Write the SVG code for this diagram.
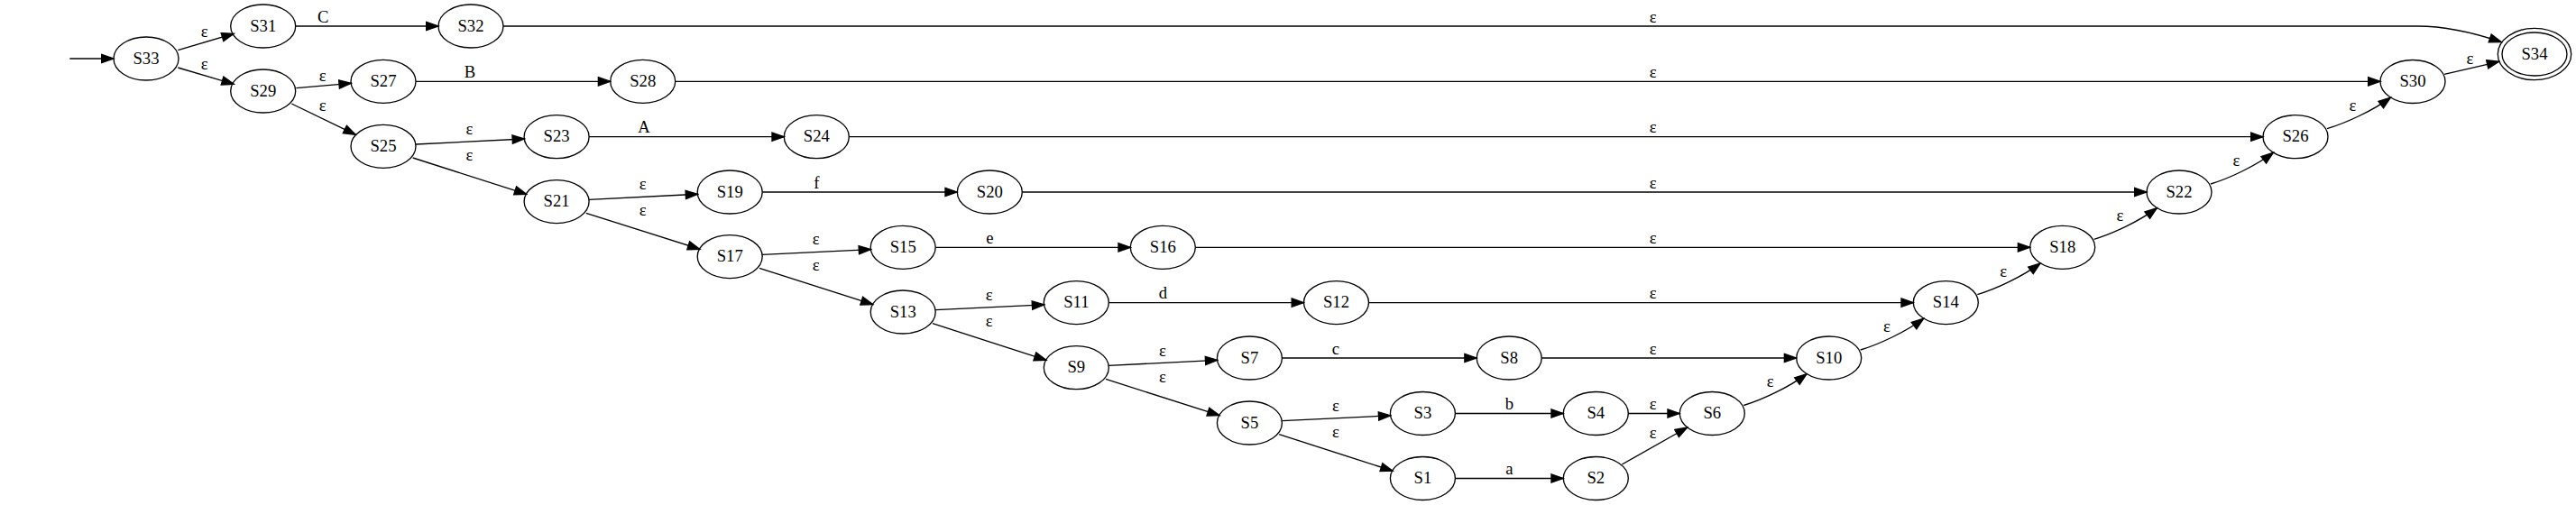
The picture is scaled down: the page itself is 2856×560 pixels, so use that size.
<svg xmlns="http://www.w3.org/2000/svg" width="2856" height="560" viewBox="0 0 2856 560">
<style>
.n ellipse{fill:none;stroke:#000;stroke-width:1.33}
text{font-family:"Liberation Serif","Times New Roman",serif;font-size:18.67px;text-anchor:middle;fill:#000}
.e path{fill:none;stroke:#000;stroke-width:1.33;marker-end:url(#ah)}
</style>
<defs>
<marker id="ah" markerUnits="userSpaceOnUse" viewBox="0 0 16 12" markerWidth="16" markerHeight="12" refX="14.33" refY="6" orient="auto">
<path d="M1,1.33 L14.33,6 L1,10.67 Z" fill="#000" stroke="#000" stroke-width="1.33"/>
</marker>
</defs>
<rect width="2856" height="560" fill="#fff"/>
<g id="edges" class="e">
<path d="M77.3,65 L126,65"/>
<path d="M197.3,55.7 L259.3,37.3"/>
<path d="M197.3,75 L259.3,93.3"/>
<path d="M328.3,97.7 L389.3,92.3"/>
<path d="M323.3,115 L394.3,149.3"/>
<path d="M461,160 L581.5,154"/>
<path d="M457.7,175 L583.8,215.3"/>
<path d="M653.1,221.3 L773.6,215.3"/>
<path d="M649.8,236.3 L775.9,276.3"/>
<path d="M845.2,282.3 L965.6,276.6"/>
<path d="M841.9,297.3 L967.9,337.7"/>
<path d="M1037.2,343.7 L1157.7,337.9"/>
<path d="M1033.9,358.7 L1160,399.4"/>
<path d="M1229.3,405.4 L1349.8,399.3"/>
<path d="M1226,420.4 L1352.1,460.7"/>
<path d="M1421.4,466.7 L1541.8,460.8"/>
<path d="M1418.1,481.7 L1544.1,522.2"/>
<path d="M327.7,29 L486,29"/>
<path d="M461,90.3 L676.7,90.3"/>
<path d="M653.1,151.7 L869.3,151.7"/>
<path d="M845.2,213 L1061.3,213"/>
<path d="M1037.2,274.3 L1253.3,274.3"/>
<path d="M1229.3,335.6 L1445.5,335.6"/>
<path d="M1421.4,397 L1637.2,397"/>
<path d="M1613.4,458.5 L1733.3,458.5"/>
<path d="M1613.4,530.5 L1733.3,530.5"/>
<path d="M558,29 L2680,29 C2715,29 2745,37 2773.3,46.7"/>
<path d="M748.7,90.3 L2639,90.3"/>
<path d="M941.3,151.7 L2509,151.7"/>
<path d="M1133.3,213 L2380,213"/>
<path d="M1325.3,274.3 L2250.7,274.3"/>
<path d="M1517.5,335.6 L2121.3,335.6"/>
<path d="M1709.2,397 L1991.7,397"/>
<path d="M1805.3,458.5 L1862.3,458.5"/>
<path d="M1798.3,515 L1870.7,474"/>
<path d="M1933.3,449.5 C1953.3,443.5 1983.1,429.6 2003.1,414.6"/>
<path d="M2062.7,388 C2082.7,382 2112.7,368.2 2132.7,353.2"/>
<path d="M2192.3,326.6 C2212.3,320.6 2242.1,306.9 2262.1,291.9"/>
<path d="M2321.7,265.3 C2341.7,259.3 2371.4,245.6 2391.4,230.6"/>
<path d="M2451,204 C2471,198 2500.4,184.3 2520.4,169.3"/>
<path d="M2580,142.7 C2600,136.7 2630.4,123.1 2650.4,108.1"/>
<path d="M2710,82.3 L2770.7,68.3"/>
</g>
<g id="edge-labels">
<text x="226.7" y="41">ε</text>
<text x="226.7" y="77">ε</text>
<text x="357.7" y="90.3">ε</text>
<text x="357.7" y="122.6">ε</text>
<text x="520.5" y="149.1">ε</text>
<text x="520.5" y="178.1">ε</text>
<text x="712.6" y="210.4">ε</text>
<text x="712.6" y="239.4">ε</text>
<text x="904.7" y="271.4">ε</text>
<text x="904.7" y="300.4">ε</text>
<text x="1096.7" y="332.8">ε</text>
<text x="1096.7" y="361.8">ε</text>
<text x="1288.8" y="394.5">ε</text>
<text x="1288.8" y="423.5">ε</text>
<text x="1480.9" y="455.8">ε</text>
<text x="1480.9" y="484.8">ε</text>
<text x="358.3" y="24.6">C</text>
<text x="521" y="85.9">B</text>
<text x="714" y="147.3">A</text>
<text x="905.3" y="208.6">f</text>
<text x="1097.3" y="269.9">e</text>
<text x="1289.3" y="331.2">d</text>
<text x="1481" y="392.6">c</text>
<text x="1673.3" y="454.1">b</text>
<text x="1673.3" y="526.1">a</text>
<text x="1832.7" y="24.6">ε</text>
<text x="1832.7" y="85.9">ε</text>
<text x="1832.7" y="147.3">ε</text>
<text x="1832.7" y="208.6">ε</text>
<text x="1832.7" y="269.9">ε</text>
<text x="1832.7" y="331.2">ε</text>
<text x="1832.7" y="392.6">ε</text>
<text x="1832.7" y="454.1">ε</text>
<text x="1832.7" y="486">ε</text>
<text x="1962.7" y="429.3">ε</text>
<text x="2091.9" y="368">ε</text>
<text x="2221.1" y="306.7">ε</text>
<text x="2350.3" y="245.4">ε</text>
<text x="2479.5" y="184.1">ε</text>
<text x="2608.5" y="122.8">ε</text>
<text x="2738.3" y="71">ε</text>
</g>
<g id="S33" class="n"><ellipse cx="162" cy="65" rx="36" ry="24"/><text x="162" y="70.5">S33</text></g>
<g id="S31" class="n"><ellipse cx="291.7" cy="29" rx="36" ry="24"/><text x="291.7" y="34.5">S31</text></g>
<g id="S32" class="n"><ellipse cx="522" cy="29" rx="36" ry="24"/><text x="522" y="34.5">S32</text></g>
<g id="S29" class="n"><ellipse cx="291.7" cy="101" rx="36" ry="24"/><text x="291.7" y="106.5">S29</text></g>
<g id="S27" class="n"><ellipse cx="425" cy="90.3" rx="36" ry="24"/><text x="425" y="95.8">S27</text></g>
<g id="S28" class="n"><ellipse cx="712.7" cy="90.3" rx="36" ry="24"/><text x="712.7" y="95.8">S28</text></g>
<g id="S25" class="n"><ellipse cx="425" cy="162.3" rx="36" ry="24"/><text x="425" y="167.8">S25</text></g>
<g id="S23" class="n"><ellipse cx="617.1" cy="151.7" rx="36" ry="24"/><text x="617.1" y="157.2">S23</text></g>
<g id="S24" class="n"><ellipse cx="905.3" cy="151.7" rx="36" ry="24"/><text x="905.3" y="157.2">S24</text></g>
<g id="S21" class="n"><ellipse cx="617.1" cy="223.6" rx="36" ry="24"/><text x="617.1" y="229.1">S21</text></g>
<g id="S19" class="n"><ellipse cx="809.2" cy="213" rx="36" ry="24"/><text x="809.2" y="218.5">S19</text></g>
<g id="S20" class="n"><ellipse cx="1097.3" cy="213" rx="36" ry="24"/><text x="1097.3" y="218.5">S20</text></g>
<g id="S17" class="n"><ellipse cx="809.2" cy="284.6" rx="36" ry="24"/><text x="809.2" y="290.1">S17</text></g>
<g id="S15" class="n"><ellipse cx="1001.2" cy="274.3" rx="36" ry="24"/><text x="1001.2" y="279.8">S15</text></g>
<g id="S16" class="n"><ellipse cx="1289.3" cy="274.3" rx="36" ry="24"/><text x="1289.3" y="279.8">S16</text></g>
<g id="S13" class="n"><ellipse cx="1001.2" cy="346" rx="36" ry="24"/><text x="1001.2" y="351.5">S13</text></g>
<g id="S11" class="n"><ellipse cx="1193.3" cy="335.6" rx="36" ry="24"/><text x="1193.3" y="341.1">S11</text></g>
<g id="S12" class="n"><ellipse cx="1481.5" cy="335.6" rx="36" ry="24"/><text x="1481.5" y="341.1">S12</text></g>
<g id="S9" class="n"><ellipse cx="1193.3" cy="407.7" rx="36" ry="24"/><text x="1193.3" y="413.2">S9</text></g>
<g id="S7" class="n"><ellipse cx="1385.4" cy="397" rx="36" ry="24"/><text x="1385.4" y="402.5">S7</text></g>
<g id="S8" class="n"><ellipse cx="1673.2" cy="397" rx="36" ry="24"/><text x="1673.2" y="402.5">S8</text></g>
<g id="S5" class="n"><ellipse cx="1385.4" cy="469" rx="36" ry="24"/><text x="1385.4" y="474.5">S5</text></g>
<g id="S3" class="n"><ellipse cx="1577.4" cy="458.5" rx="36" ry="24"/><text x="1577.4" y="464">S3</text></g>
<g id="S4" class="n"><ellipse cx="1769.3" cy="458.5" rx="36" ry="24"/><text x="1769.3" y="464">S4</text></g>
<g id="S1" class="n"><ellipse cx="1577.4" cy="530.5" rx="36" ry="24"/><text x="1577.4" y="536">S1</text></g>
<g id="S2" class="n"><ellipse cx="1769.3" cy="530.5" rx="36" ry="24"/><text x="1769.3" y="536">S2</text></g>
<g id="S6" class="n"><ellipse cx="1898.3" cy="458.5" rx="36" ry="24"/><text x="1898.3" y="464">S6</text></g>
<g id="S10" class="n"><ellipse cx="2027.7" cy="397" rx="36" ry="24"/><text x="2027.7" y="402.5">S10</text></g>
<g id="S14" class="n"><ellipse cx="2157.3" cy="335.6" rx="36" ry="24"/><text x="2157.3" y="341.1">S14</text></g>
<g id="S18" class="n"><ellipse cx="2286.7" cy="274.3" rx="36" ry="24"/><text x="2286.7" y="279.8">S18</text></g>
<g id="S22" class="n"><ellipse cx="2416" cy="213" rx="36" ry="24"/><text x="2416" y="218.5">S22</text></g>
<g id="S26" class="n"><ellipse cx="2545" cy="151.7" rx="36" ry="24"/><text x="2545" y="157.2">S26</text></g>
<g id="S30" class="n"><ellipse cx="2675" cy="90.5" rx="36" ry="24"/><text x="2675" y="96">S30</text></g>
<g id="S34" class="n"><ellipse cx="2810" cy="60" rx="36" ry="24"/><ellipse cx="2810" cy="60" rx="40.7" ry="28.7"/><text x="2810" y="65.5">S34</text></g>
</svg>
